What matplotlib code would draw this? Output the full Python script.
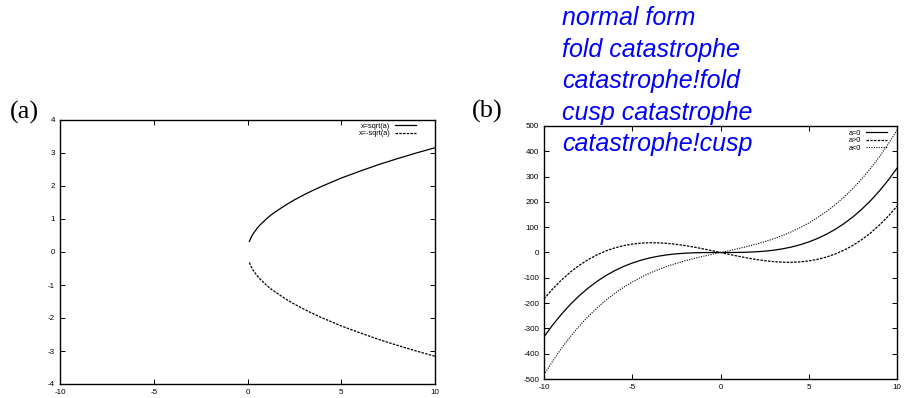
import numpy as np
import matplotlib
matplotlib.use("Agg")
import matplotlib.pyplot as plt

plt.rcParams['font.family'] = ['Liberation Sans', 'DejaVu Sans']
plt.rcParams['axes.unicode_minus'] = False

# panel (a): branches of the fold
a_vals = [0.1, 0.15, 0.2, 0.3, 0.4, 0.5, 0.65, 0.8, 1, 1.25, 1.5, 2, 2.5, 3, 3.5,
          4, 5, 6, 7, 8, 9, 10]
x_pos = [0.32, 0.39, 0.45, 0.55, 0.63, 0.71, 0.81, 0.89, 1.0, 1.12, 1.22, 1.41,
         1.58, 1.73, 1.87, 2.0, 2.24, 2.45, 2.65, 2.83, 3.0, 3.16]
x_neg = [-0.32, -0.39, -0.45, -0.55, -0.63, -0.71, -0.81, -0.89, -1.0, -1.12, -1.22,
         -1.41, -1.58, -1.73, -1.87, -2.0, -2.24, -2.45, -2.65, -2.83, -3.0, -3.16]

# panel (b): cusp normal form for three values of a
xb = [-10, -9.5, -9, -8.5, -8, -7.5, -7, -6.5, -6, -5.5, -5, -4.5, -4, -3.5, -3,
      -2.5, -2, -1.5, -1, -0.5, 0, 0.5, 1, 1.5, 2, 2.5, 3, 3.5, 4, 4.5, 5, 5.5,
      6, 6.5, 7, 7.5, 8, 8.5, 9, 9.5, 10]
y_a0 = [-333.3, -285.8, -243, -204.7, -170.7, -140.6, -114.3, -91.5, -72, -55.5,
        -41.7, -30.4, -21.3, -14.3, -9, -5.2, -2.7, -1.1, -0.3, -0.04, 0,
        0.04, 0.3, 1.1, 2.7, 5.2, 9, 14.3, 21.3, 30.4, 41.7, 55.5, 72, 91.5,
        114.3, 140.6, 170.7, 204.7, 243, 285.8, 333.3]
y_apos = [-183.3, -143.3, -108, -77.2, -50.7, -28.1, -9.3, 6, 18, 27, 33.3, 37.1,
          38.7, 38.2, 36, 32.3, 27.3, 21.4, 14.7, 7.5, 0,
          -7.5, -14.7, -21.4, -27.3, -32.3, -36, -38.2, -38.7, -37.1, -33.3, -27,
          -18, -6, 9.3, 28.1, 50.7, 77.2, 108, 143.3, 183.3]
y_aneg = [-483.3, -428.3, -378, -331.9, -290.7, -253.1, -219.3, -189, -162, -138,
          -116.7, -97.9, -81.3, -66.8, -54, -42.7, -32.7, -23.6, -15.3, -7.5, 0,
          7.5, 15.3, 23.6, 32.7, 42.7, 54, 66.8, 81.3, 97.9, 116.7, 138, 162, 189,
          219.3, 253.1, 290.7, 331.9, 378, 428.3, 483.3]

index_terms = ['normal form', 'fold catastrophe', 'catastrophe!fold',
               'cusp catastrophe', 'catastrophe!cusp']

W, H = 909, 398
fig = plt.figure(figsize=(W / 100, H / 100), dpi=100)


def style_axes(ax):
    ax.tick_params(direction='in', length=3.5, width=0.7, labelsize=5.8,
                   top=True, right=True, pad=3.5)
    for s in ax.spines.values():
        s.set_linewidth(1.0)


def small_legend(ax, anchor):
    ax.legend(loc='upper right', bbox_to_anchor=anchor, fontsize=5.3,
              frameon=False, markerfirst=False, handlelength=2.9,
              labelspacing=0.05, borderaxespad=0, borderpad=0,
              handletextpad=0.6)


ax1 = fig.add_axes([60 / W, 1 - 384 / H, 375 / W, 264 / H])
ax1.plot(a_vals, x_pos, color='black', lw=0.9, label='x=sqrt(a)')
ax1.plot(a_vals, x_neg, color='black', lw=0.9, dashes=(2, 1), label='x=-sqrt(a)')
ax1.set_xlim(-10, 10)
ax1.set_ylim(-4, 4)
ax1.set_xticks([-10, -5, 0, 5, 10])
ax1.set_yticks(range(-4, 5))
style_axes(ax1)
small_legend(ax1, (0.95, 0.99))

ax2 = fig.add_axes([544 / W, 1 - 379 / H, 353 / W, 253 / H])
ax2.plot(xb, y_a0, color='black', lw=0.9, label='a=0')
ax2.plot(xb, y_apos, color='black', lw=0.9, dashes=(2, 1), label='a>0')
ax2.plot(xb, y_aneg, color='black', lw=0.8, dashes=(1, 1.2), label='a<0')
ax2.set_xlim(-10, 10)
ax2.set_ylim(-500, 500)
ax2.set_xticks([-10, -5, 0, 5, 10])
ax2.set_yticks(range(-500, 501, 100))
style_axes(ax2)
small_legend(ax2, (0.972, 0.985))

fig.text(10 / W, 1 - 119 / H, '(a)', family='Liberation Serif', fontsize=19,
         va='baseline')
fig.text(472 / W, 1 - 118 / H, '(b)', family='Liberation Serif', fontsize=19,
         va='baseline')

for i, term in enumerate(index_terms):
    fig.text(562 / W, 1 - (25 + 31.6 * i) / H, term, color='blue',
             style='italic', fontsize=18, va='baseline')

fig.savefig('out.png', dpi=100)
